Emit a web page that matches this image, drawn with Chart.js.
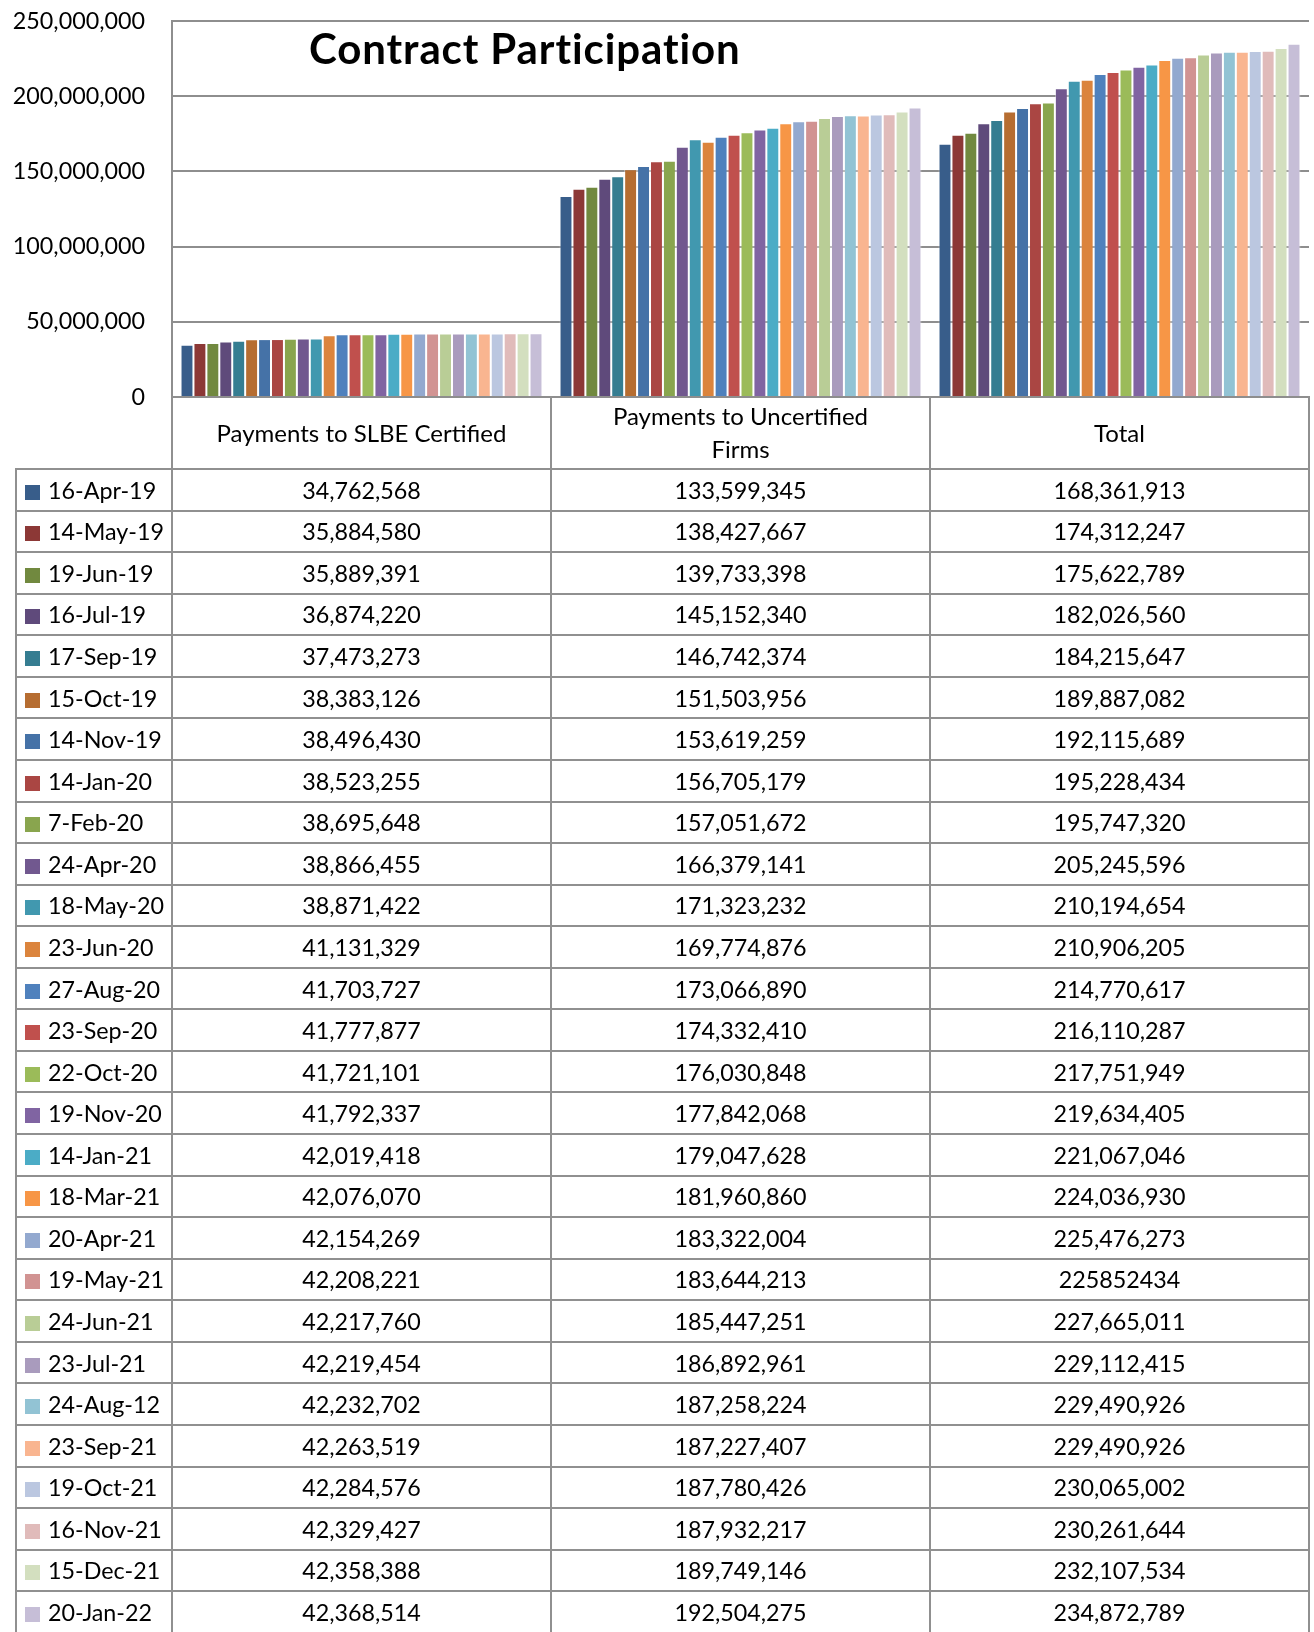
<!DOCTYPE html>
<html>
<head>
<meta charset="utf-8">
<script src="https://cdn.jsdelivr.net/npm/chart.js@4"></script>
<style>
  html, body { margin: 0; padding: 0; background: #fff; }
  body { width: 1314px; height: 1632px; position: relative; overflow: hidden; font-family: Lato, sans-serif; color: #000; }
  #wrap { position: absolute; left: 0; top: 0; width: 1314px; height: 420px; }
  #title { position: absolute; left: 309px; top: 23px; font: bold 42px/1.2 Lato, sans-serif; letter-spacing: 0.9px; white-space: nowrap; }
  #tbl { position: absolute; left: 15px; top: 396px; border-collapse: collapse; table-layout: fixed; width: 1295px; background: transparent; font-size: 23.3px; }
  #tbl td { border: 2px solid #909090; text-align: center; vertical-align: middle; padding: 0; white-space: nowrap; }
  #tbl tr.head td { height: 72px; border-top: none; line-height: 33px; font-size: 24px; }
  #tbl tr.head td.blank { border-top: hidden; border-left: hidden; }
  #tbl tr.row td { height: 39.57px; }
  #tbl td.key { text-align: left; padding-left: 8px; }
  #tbl td.key span.sw { display: inline-block; width: 15px; height: 15px; margin-right: 8px; vertical-align: -1px; }
</style>
</head>
<body>
<div id="wrap"><canvas id="chart"></canvas></div>
<div id="title">Contract Participation</div>
<table id="tbl">
  <colgroup><col style="width:156px"><col style="width:379px"><col style="width:379px"><col style="width:379px"></colgroup>
  <tbody id="tbody"></tbody>
</table>
<script>
const categories = ["Payments to SLBE Certified", ["Payments to Uncertified", "Firms"], "Total"];

const dates = [
  "16-Apr-19", "14-May-19", "19-Jun-19", "16-Jul-19", "17-Sep-19", "15-Oct-19", "14-Nov-19",
  "14-Jan-20", "7-Feb-20", "24-Apr-20", "18-May-20", "23-Jun-20", "27-Aug-20", "23-Sep-20",
  "22-Oct-20", "19-Nov-20", "14-Jan-21", "18-Mar-21", "20-Apr-21", "19-May-21", "24-Jun-21",
  "23-Jul-21", "24-Aug-12", "23-Sep-21", "19-Oct-21", "16-Nov-21", "15-Dec-21", "20-Jan-22"
];

const slbeCertified = [
  34762568, 35884580, 35889391, 36874220, 37473273, 38383126, 38496430,
  38523255, 38695648, 38866455, 38871422, 41131329, 41703727, 41777877,
  41721101, 41792337, 42019418, 42076070, 42154269, 42208221, 42217760,
  42219454, 42232702, 42263519, 42284576, 42329427, 42358388, 42368514
];

const uncertifiedFirms = [
  133599345, 138427667, 139733398, 145152340, 146742374, 151503956, 153619259,
  156705179, 157051672, 166379141, 171323232, 169774876, 173066890, 174332410,
  176030848, 177842068, 179047628, 181960860, 183322004, 183644213, 185447251,
  186892961, 187258224, 187227407, 187780426, 187932217, 189749146, 192504275
];

const totals = [
  168361913, 174312247, 175622789, 182026560, 184215647, 189887082, 192115689,
  195228434, 195747320, 205245596, 210194654, 210906205, 214770617, 216110287,
  217751949, 219634405, 221067046, 224036930, 225476273, 225852434, 227665011,
  229112415, 229490926, 229490926, 230065002, 230261644, 232107534, 234872789
];

// this one was typed in as plain text in the sheet, no thousands separators
const totalsAsText = ["19-May-21"];

const yTicks = [0, 50000000, 100000000, 150000000, 200000000, 250000000];

const colors = [
  "#385D8A", "#8C3836", "#71893F", "#5F4A7B", "#357D91", "#B66D31", "#4572A7",
  "#AA4643", "#89A54E", "#71588F", "#4198AF", "#DB843D", "#4F81BD", "#C0504D",
  "#9BBB59", "#8064A2", "#4BACC6", "#F79646", "#93A9CF", "#D19392", "#B9CD96",
  "#A99BBD", "#92C3D4", "#F9B590", "#BBC7E0", "#E0BBBA", "#D3DFBF", "#C6BED7"
];

const fmt = n => n.toLocaleString("en-US");

Chart.defaults.font.family = "Lato, sans-serif";
Chart.defaults.color = "#000";

const datasets = dates.map((d, i) => ({
  label: d,
  data: [slbeCertified[i], uncertifiedFirms[i], totals[i]],
  backgroundColor: colors[i],
  borderColor: "rgba(255,255,255,0.45)",
  borderWidth: { top: 1, left: 1, right: 1, bottom: 0 },
  categoryPercentage: 0.955,
  barPercentage: 1
}));

const chart = new Chart(document.getElementById("chart"), {
  type: "bar",
  data: { labels: categories, datasets: datasets },
  options: {
    responsive: true,
    maintainAspectRatio: false,
    animation: false,
    layout: { padding: { top: 0, bottom: 23, left: 0, right: 5 } },
    plugins: {
      legend: { display: false },
      tooltip: { enabled: false },
      title: { display: false }
    },
    scales: {
      x: { display: false },
      y: {
        min: 0,
        max: 250000000,
        afterBuildTicks: axis => { axis.ticks = yTicks.map(v => ({ value: v })); },
        afterFit: axis => { axis.width = 172; },
        // invisible tick marks push the labels left without adding top/bottom padding
        grid: { color: "#8e8e8e", lineWidth: 2, drawTicks: true, tickLength: 20, tickColor: "rgba(0,0,0,0)" },
        border: { color: "#8e8e8e", width: 2 },
        ticks: {
          padding: 7,
          font: { size: 23.3 },
          color: "#000",
          callback: v => fmt(v)
        }
      }
    }
  }
});

// data table under the plot, built from the same arrays
const tbody = document.getElementById("tbody");
let html = '<tr class="head"><td class="blank"></td>';
categories.forEach(c => {
  html += "<td>" + (Array.isArray(c) ? c.join("<br>") : c) + "</td>";
});
html += "</tr>";
dates.forEach((d, i) => {
  const tot = totalsAsText.includes(d) ? String(totals[i]) : fmt(totals[i]);
  html += '<tr class="row"><td class="key"><span class="sw" style="background:' + colors[i] + '"></span>' + d + "</td>" +
    "<td>" + fmt(slbeCertified[i]) + "</td><td>" + fmt(uncertifiedFirms[i]) + "</td><td>" + tot + "</td></tr>";
});
tbody.innerHTML = html;
</script>
</body>
</html>
